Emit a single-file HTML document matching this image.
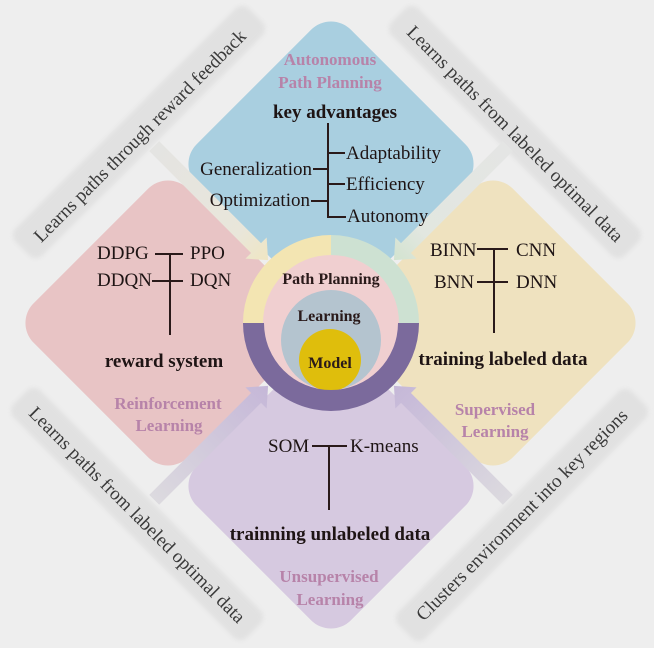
<!DOCTYPE html>
<html><head><meta charset="utf-8"><style>
html,body{margin:0;padding:0;background:#eeeeee;}
svg{display:block;}
text{font-family:"Liberation Serif","Times New Roman",serif;}
.d{fill:#1e1414;font-size:19px;}
.b{font-weight:bold;}
.p{fill:#b783a9;font-size:17px;font-weight:bold;}
.lab{fill:#3a3a3a;font-size:19px;}
.c{fill:#2a1a1a;font-size:16px;font-weight:bold;}
</style></head><body>
<svg width="654" height="648" viewBox="0 0 654 648" xmlns="http://www.w3.org/2000/svg">
<defs>
<filter id="soft" x="-20%" y="-20%" width="140%" height="140%"><feGaussianBlur stdDeviation="2"/></filter>
<linearGradient id="gTL" gradientUnits="userSpaceOnUse" x1="88" y1="0" x2="250" y2="0"><stop offset="0" stop-color="#efe6c2"/><stop offset="0.25" stop-color="#e9e6da"/><stop offset="1" stop-color="#e4e4e2"/></linearGradient>
<linearGradient id="gTR" gradientUnits="userSpaceOnUse" x1="88" y1="0" x2="250" y2="0"><stop offset="0" stop-color="#d2e3cf"/><stop offset="0.25" stop-color="#e2e7e0"/><stop offset="1" stop-color="#e4e5e4"/></linearGradient>
<linearGradient id="gB" gradientUnits="userSpaceOnUse" x1="88" y1="0" x2="250" y2="0"><stop offset="0" stop-color="#c5b7d8"/><stop offset="1" stop-color="#dcdadf"/></linearGradient>
</defs>
<rect width="654" height="648" fill="#eeeeee"/>

<!-- label boxes -->
<g filter="url(#soft)" fill="#e1e1e1">
<rect x="-165" y="-19" width="330" height="38" rx="10" transform="translate(139,132) rotate(-45)"/>
<rect x="-165" y="-19" width="330" height="38" rx="10" transform="translate(515,132) rotate(45)"/>
<rect x="-165" y="-19" width="330" height="38" rx="10" transform="translate(137,514) rotate(45)"/>
<rect x="-165" y="-19" width="330" height="38" rx="10" transform="translate(522,515) rotate(-45)"/>
</g>
<text class="lab" text-anchor="middle" transform="translate(140,136) rotate(-45)" y="6">Learns paths through reward feedback</text>
<text class="lab" text-anchor="middle" transform="translate(515,134) rotate(45)" y="6">Learns paths from labeled optimal data</text>
<text class="lab" text-anchor="middle" transform="translate(137,515) rotate(45)" y="6">Learns paths from labeled optimal data</text>
<text class="lab" text-anchor="middle" transform="translate(522,515) rotate(-45)" y="6">Clusters environment into key regions</text>

<!-- diamonds -->
<rect x="-109" y="-109" width="218" height="218" rx="28" fill="#a9cfe0" transform="translate(331,164) rotate(45)"/>
<rect x="-109" y="-109" width="218" height="218" rx="28" fill="#e8c4c5" transform="translate(168,323) rotate(45)"/>
<rect x="-109" y="-109" width="218" height="218" rx="28" fill="#efe2bf" transform="translate(493,323) rotate(45)"/>
<rect x="-109" y="-109" width="218" height="218" rx="28" fill="#d6c9e0" transform="translate(331,486) rotate(45)"/>

<!-- arrows -->
<g transform="translate(331,323) rotate(225)"><polygon fill="url(#gTL)" points="89,0 106,-15 106,-7 250,-7 250,7 106,7 106,15"/></g>
<g transform="translate(331,323) rotate(-45)"><polygon fill="url(#gTR)" points="89,0 106,-15 106,-7 250,-7 250,7 106,7 106,15"/></g>
<g transform="translate(331,323) rotate(135)"><polygon fill="url(#gB)" points="89,0 106,-15 106,-7 250,-7 250,7 106,7 106,15"/></g>
<g transform="translate(331,323) rotate(45)"><polygon fill="url(#gB)" points="89,0 106,-15 106,-7 250,-7 250,7 106,7 106,15"/></g>

<!-- center circle -->
<circle cx="331" cy="323" r="70" fill="#f0cfd0"/>
<circle cx="331" cy="340" r="50" fill="#b4c4cf"/>
<circle cx="330" cy="360" r="31" fill="#dfbe0c"/>
<path d="M243 323 A88 88 0 0 1 331 235 L331 255 A68 68 0 0 0 263 323 Z" fill="#f3e5b2"/>
<path d="M331 235 A88 88 0 0 1 419 323 L399 323 A68 68 0 0 0 331 255 Z" fill="#cde1d2"/>
<path d="M419 323 A88 88 0 0 1 243 323 L264 323 A67 67 0 0 0 398 323 Z" fill="#7b6a9c"/>
<text class="c" x="331" y="284" text-anchor="middle">Path Planning</text>
<text class="c" x="329" y="321" text-anchor="middle">Learning</text>
<text class="c" x="330" y="368" text-anchor="middle">Model</text>

<!-- blue -->
<text class="p" x="330" y="65" text-anchor="middle">Autonomous</text>
<text class="p" x="330" y="88" text-anchor="middle">Path Planning</text>
<text class="d b" x="335" y="118" text-anchor="middle">key advantages</text>
<text class="d" x="312" y="175" text-anchor="end">Generalization</text>
<text class="d" x="310" y="206" text-anchor="end">Optimization</text>
<text class="d" x="346" y="159">Adaptability</text>
<text class="d" x="346" y="190">Efficiency</text>
<text class="d" x="347" y="222">Autonomy</text>
<g stroke="#2a1a1a" stroke-width="2" fill="none">
<line x1="328" y1="123" x2="328" y2="218"/>
<line x1="313" y1="169" x2="328" y2="169"/>
<line x1="311" y1="201" x2="328" y2="201"/>
<line x1="328" y1="153" x2="345" y2="153"/>
<line x1="328" y1="184" x2="345" y2="184"/>
<line x1="327" y1="217" x2="346" y2="217"/>

<line x1="155" y1="254" x2="183" y2="254"/>
<line x1="152" y1="281" x2="183" y2="281"/>
<line x1="170" y1="254" x2="170" y2="335"/>

<line x1="477" y1="249" x2="508" y2="249"/>
<line x1="477" y1="282" x2="508" y2="282"/>
<line x1="494" y1="249" x2="494" y2="333"/>

<line x1="312" y1="446" x2="347" y2="446"/>
<line x1="329" y1="446" x2="329" y2="510"/>
</g>

<!-- pink -->
<text class="d" x="97" y="259">DDPG</text>
<text class="d" x="190" y="259">PPO</text>
<text class="d" x="97" y="286">DDQN</text>
<text class="d" x="190" y="286">DQN</text>
<text class="d b" x="164" y="367" text-anchor="middle">reward system</text>
<text class="p" x="168" y="409" text-anchor="middle">Reinforcement</text>
<text class="p" x="169" y="431" text-anchor="middle">Learning</text>

<!-- yellow -->
<text class="d" x="430" y="256">BINN</text>
<text class="d" x="516" y="256">CNN</text>
<text class="d" x="434" y="288">BNN</text>
<text class="d" x="516" y="288">DNN</text>
<text class="d b" x="503" y="365" text-anchor="middle">training labeled data</text>
<text class="p" x="495" y="415" text-anchor="middle">Supervised</text>
<text class="p" x="495" y="437" text-anchor="middle">Learning</text>

<!-- purple -->
<text class="d" x="268" y="452">SOM</text>
<text class="d" x="350" y="452">K-means</text>
<text class="d b" x="330" y="540" text-anchor="middle">trainning unlabeled data</text>
<text class="p" x="329" y="582" text-anchor="middle">Unsupervised</text>
<text class="p" x="330" y="605" text-anchor="middle">Learning</text>
</svg>
</body></html>
